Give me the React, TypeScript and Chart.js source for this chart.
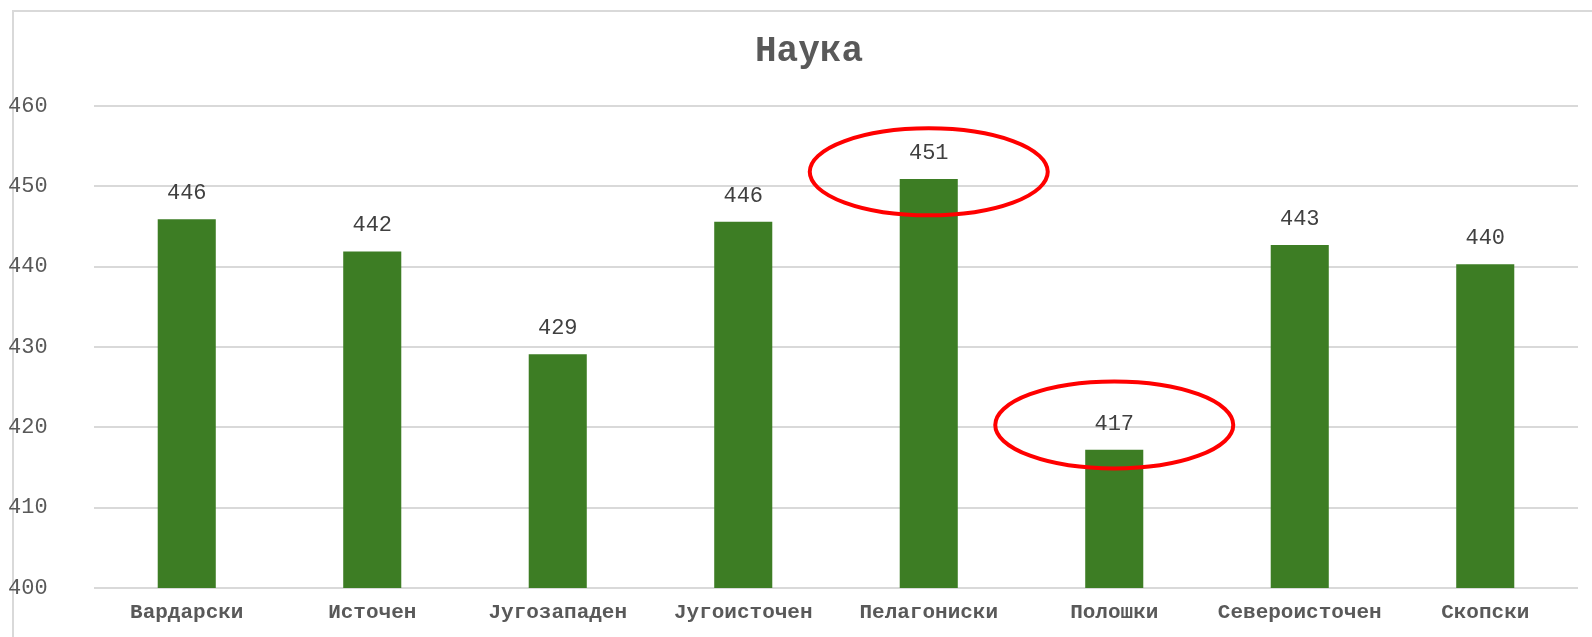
import React, { useEffect, useRef } from "react";
import { Chart, registerables } from "chart.js";

Chart.register(...registerables);

const chartTitle = "Наука";
const regions = [
  "Вардарски",
  "Источен",
  "Југозападен",
  "Југоисточен",
  "Пелагониски",
  "Полошки",
  "Североисточен",
  "Скопски",
];
const scores = [445.9, 441.9, 429.1, 445.6, 450.9, 417.2, 442.7, 440.3];
const yMin = 400;
const yMax = 460;
const yStep = 10;
// highlighted categories (red ellipses), anchored on value scale
const highlightIndex = [4, 5];
const highlightValue = [451.8, 420.3];

const FONT = "'Liberation Mono', 'Courier New', monospace";
const TEXT = "#595959";

const frameAndLabels = {
  id: "frameAndLabels",
  beforeDraw(chart: any) {
    const ctx = chart.ctx;
    ctx.save();
    ctx.strokeStyle = "#D9D9D9";
    ctx.lineWidth = 2;
    ctx.strokeRect(13, 11, chart.width + 50, chart.height + 50);
    // title (centred on the full chart frame, which extends past the right edge)
    ctx.font = `bold 36px ${FONT}`;
    ctx.fillStyle = TEXT;
    ctx.textAlign = "center";
    ctx.textBaseline = "middle";
    ctx.fillText(chartTitle, 809, 52);
    ctx.restore();
  },
  afterDatasetsDraw(chart: any) {
    const ctx = chart.ctx;
    const meta = chart.getDatasetMeta(0);
    ctx.save();
    ctx.font = `22px ${FONT}`;
    ctx.fillStyle = "#404040";
    ctx.textAlign = "center";
    ctx.textBaseline = "middle";
    meta.data.forEach((bar: any, i: number) => {
      const v = chart.data.datasets[0].data[i] as number;
      ctx.fillText(String(Math.round(v)), bar.x, bar.y - 26);
    });
    // red ellipses
    const yScale = chart.scales.y;
    ctx.strokeStyle = "#FF0000";
    ctx.lineWidth = 4;
    highlightIndex.forEach((idx, k) => {
      const bar = meta.data[idx] as any;
      const cy = yScale.getPixelForValue(highlightValue[k]);
      ctx.beginPath();
      ctx.ellipse(bar.x, cy, 119, 43.5, 0, 0, Math.PI * 2);
      ctx.stroke();
    });
    ctx.restore();
  },
};

export default function App() {
  const ref = useRef<HTMLCanvasElement | null>(null);
  useEffect(() => {
    if (!ref.current) return;
    const chart = new Chart(ref.current, {
      type: "bar",
      data: {
        labels: regions,
        datasets: [
          {
            data: scores,
            backgroundColor: "#3D7D24",
            categoryPercentage: 0.313,
            barPercentage: 1,
          },
        ],
      },
      options: {
        responsive: false,
        animation: false,
        layout: { padding: { left: 8, right: 14, top: 106, bottom: 0 } },
        plugins: {
          legend: { display: false },
          tooltip: { enabled: false },
          title: { display: false },
        },
        scales: {
          x: {
            grid: { display: false, drawTicks: false },
            border: { display: false },
            ticks: {
              color: TEXT,
              font: { family: FONT, size: 21, weight: "bold" },
              padding: 12,
              autoSkip: false,
              maxRotation: 0,
            },
            afterFit: (s: any) => {
              s.height = 49;
            },
          },
          y: {
            min: yMin,
            max: yMax,
            grid: { color: "#D9D9D9", lineWidth: 2, drawTicks: false },
            border: { display: false },
            ticks: {
              stepSize: yStep,
              color: TEXT,
              font: { family: FONT, size: 22 },
              padding: 4,
              crossAlign: "far",
            },
            afterFit: (s: any) => {
              s.width = 86;
            },
          },
        },
      },
      plugins: [frameAndLabels],
    });
    return () => chart.destroy();
  }, []);
  return (
    <div style={{ position: "fixed", left: 0, top: 0, width: 1592, height: 637, background: "#fff" }}>
      <canvas ref={ref} width={1592} height={637} style={{ width: 1592, height: 637 }} />
    </div>
  );
}
